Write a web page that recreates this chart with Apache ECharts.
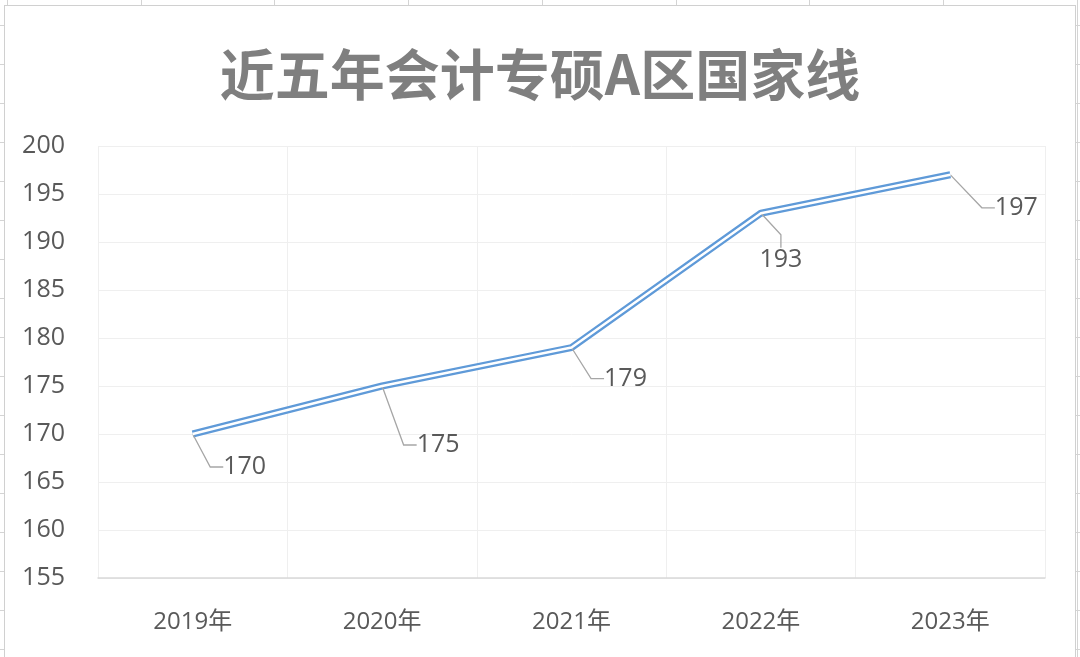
<!DOCTYPE html>
<html>
<head>
<meta charset="utf-8">
<script src="https://cdn.jsdelivr.net/npm/echarts@6/dist/echarts.min.js"></script>
<style>
  html, body { margin: 0; padding: 0; width: 1080px; height: 657px; overflow: hidden; background: #fff; }
  #sheet {
    position: absolute; left: 0; top: 0; width: 1080px; height: 657px;
    background-image:
      repeating-linear-gradient(to right, transparent 0px, transparent 6px, #d4d4d4 6px, #d4d4d4 7px, transparent 7px, transparent 133.75px),
      repeating-linear-gradient(to bottom, transparent 0px, transparent 24px, #d4d4d4 24px, #d4d4d4 25px, transparent 25px, transparent 39px);
    background-position: 1px 0, 0 1px;
  }
  #frame {
    position: absolute; left: 4px; top: 5px; width: 1072px; height: 660px;
    background: #fff; border: 1px solid #d0d0d0; box-sizing: border-box;
  }
  #chart { position: absolute; left: 0; top: 0; width: 1080px; height: 657px; }
</style>
</head>
<body>
<div id="sheet"></div>
<div id="frame"></div>
<div id="chart"></div>
<script>
const titleText = '近五年会计专硕A区国家线';
const categories = ['2019年', '2020年', '2021年', '2022年', '2023年'];
const scores = [170, 175, 179, 193, 197];
const yTicks = { min: 155, max: 200, interval: 5 };

const labelOffsets = [[50, 33], [54, 59], [52, 31], [18, 47], [64, 33]];

const chart = echarts.init(document.getElementById('chart'), null, { renderer: 'canvas' });
const font = '"Open Sans", "Noto Sans CJK SC", sans-serif';

chart.setOption({
  backgroundColor: 'transparent',
  animation: false,
  title: {
    text: titleText,
    left: 'center',
    top: 42,
    textStyle: { fontSize: 55, fontWeight: 'bold', color: '#7f7f7f', fontFamily: '"Noto Sans CJK SC", sans-serif' }
  },
  grid: { left: 98, right: 35, top: 146, bottom: 79, containLabel: false },
  xAxis: {
    type: 'category',
    data: categories,
    boundaryGap: true,
    axisLine: { show: true, lineStyle: { color: '#d9d9d9', width: 1.5 } },
    axisTick: { show: false },
    axisLabel: { color: '#595959', fontSize: 24, margin: 32, fontFamily: font },
    splitLine: { show: true, lineStyle: { color: '#efefef', width: 1 } }
  },
  yAxis: {
    type: 'value',
    min: yTicks.min,
    max: yTicks.max,
    interval: yTicks.interval,
    axisLine: { show: false },
    axisTick: { show: false },
    axisLabel: { color: '#595959', fontSize: 25, margin: 33, fontFamily: font, padding: [5, 0, 0, 0] },
    splitLine: { show: true, lineStyle: { color: '#efefef', width: 1 } }
  },
  series: [
    {
      type: 'line',
      data: scores,
      symbol: 'circle',
      symbolSize: 1,
      showSymbol: true,
      itemStyle: { color: 'rgba(0,0,0,0)' },
      lineStyle: { color: '#5f9ad8', width: 7 },
      z: 2,
      label: {
        show: true,
        position: 'inside',
        color: '#595959',
        fontSize: 25,
        fontFamily: font,
        padding: [2, 2, 2, 6]
      },
      labelLine: { show: true, length2: 13, lineStyle: { color: '#a6a6a6', width: 1.3 } },
      labelLayout: function (params) {
        const o = labelOffsets[params.dataIndex];
        return { dx: o[0], dy: o[1] };
      }
    },
    {
      type: 'line',
      data: scores,
      symbol: 'none',
      lineStyle: { color: '#ffffff', width: 2.5 },
      z: 3,
      silent: true
    }
  ]
});
</script>
</body>
</html>
